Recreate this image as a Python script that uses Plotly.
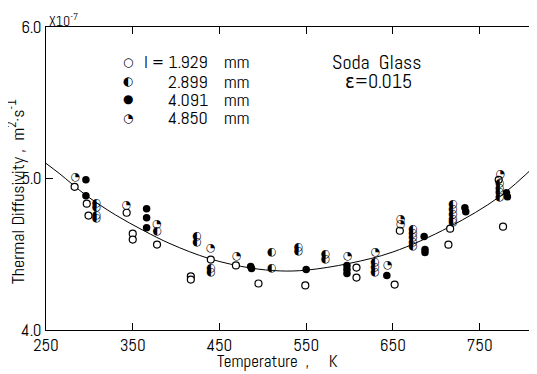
import plotly.graph_objects as go

# ---- data (temperature K, thermal diffusivity in 1e-7 m^2/s) ----
T_open = [283, 297, 299, 343, 350, 350, 378, 417, 417, 440, 469, 495, 549, 608, 608, 652, 658, 714, 716, 777, 772]
D_open = [4.945, 4.834, 4.755, 4.774, 4.636, 4.597, 4.564, 4.354, 4.333, 4.465, 4.426, 4.307, 4.294, 4.412, 4.346, 4.300, 4.655, 4.563, 4.669, 4.682, 4.991]

T_half = [308, 308, 308, 308, 378, 424, 424, 440, 440, 510, 510, 541, 541, 572, 572, 629, 629, 629,
          673, 673, 673, 673, 673, 719, 719, 719, 719, 719, 773, 773, 773, 773]
D_half = [4.834, 4.807, 4.755, 4.735, 4.650, 4.617, 4.577, 4.406, 4.380, 4.511, 4.406, 4.544, 4.518, 4.498, 4.465,
          4.445, 4.412, 4.380, 4.662, 4.636, 4.610, 4.577, 4.551, 4.827, 4.794, 4.761, 4.728, 4.708,
          4.971, 4.938, 4.906, 4.873]

T_fill = [296, 296, 366, 366, 366, 486, 487, 550, 597, 597, 597, 643, 686, 687, 687, 733, 734, 781, 782]
D_fill = [4.991, 4.886, 4.800, 4.741, 4.675, 4.419, 4.406, 4.399, 4.426, 4.399, 4.373, 4.360, 4.617, 4.531, 4.511,
          4.807, 4.781, 4.906, 4.879]

T_quar = [284, 343, 378, 440, 470, 598, 630, 644, 659, 659, 774]
D_quar = [5.005, 4.826, 4.696, 4.537, 4.485, 4.485, 4.515, 4.426, 4.728, 4.695, 5.031]

T_fit = [250, 266, 296, 330, 363, 393, 439, 485, 520, 550, 600, 650, 715, 773, 815]
D_fit = [5.10, 5.03, 4.89, 4.76, 4.655, 4.57, 4.47, 4.41, 4.39, 4.395, 4.44, 4.515, 4.68, 4.88, 5.09]

legend_labels = ["l = 1.929", "2.899", "4.091", "4.850"]
legend_glyphs = ["\u25CB", "\u25D0", "\u25CF", "\u25D4"]

x_ticks = [250, 350, 450, 550, 650, 750]
y_ticks = [4.0, 5.0, 6.0]

FONT = "Abel, DejaVu Sans Condensed, sans-serif"
GLYPH = "DejaVu Sans"

# page body has an 8px default margin; size the figure so it fills the 537x374 window
OFF = 8
W, H = 537 - OFF, 374 - OFF
ML, MR, MT, MB = 46 - OFF, 1, 27 - OFF, 374 - 330

fig = go.Figure()

fig.add_trace(go.Scatter(x=T_fit, y=D_fit, mode="lines", line=dict(color="black", width=1, shape="spline"),
                         showlegend=False, hoverinfo="skip"))

fig.add_trace(go.Scatter(x=T_open, y=D_open, mode="markers",
                         marker=dict(symbol="circle", size=7, color="white", line=dict(color="black", width=1.2)),
                         showlegend=False))
fig.add_trace(go.Scatter(x=T_fill, y=D_fill, mode="markers",
                         marker=dict(symbol="circle", size=7.5, color="black", line=dict(color="black", width=0)),
                         showlegend=False))
fig.add_trace(go.Scatter(x=T_half, y=D_half, mode="text", text=[legend_glyphs[1]] * len(T_half),
                         textposition="middle center", textfont=dict(family=GLYPH, size=11, color="black"),
                         showlegend=False))
fig.add_trace(go.Scatter(x=T_quar, y=D_quar, mode="text", text=[legend_glyphs[3]] * len(T_quar),
                         textposition="middle center", textfont=dict(family=GLYPH, size=11, color="black"),
                         showlegend=False))

pw = W - ML - MR
ph = H - MT - MB


def px(x):
    # x: pixel in the 537-wide window
    return (x - OFF - ML) / pw


def py(y):
    # y: pixel in the 374-high window
    return (H - MB - (y - OFF)) / ph


ann = []
rows = [62, 81, 99, 118]
for i, yy in enumerate(rows):
    ann.append(dict(x=px(128), y=py(yy), xref="paper", yref="paper", text=legend_glyphs[i], showarrow=False,
                    font=dict(family=GLYPH, size=12, color="black"), xanchor="center", yanchor="middle"))
    ann.append(dict(x=px(210), y=py(yy), xref="paper", yref="paper", text=legend_labels[i], showarrow=False,
                    font=dict(family=FONT, size=18, color="black"), xanchor="right", yanchor="middle"))
    ann.append(dict(x=px(222), y=py(yy), xref="paper", yref="paper", text="mm", showarrow=False,
                    font=dict(family=FONT, size=18, color="black"), xanchor="left", yanchor="middle"))

ann.append(dict(x=px(376), y=py(62), xref="paper", yref="paper", text="Soda  Glass", showarrow=False,
                font=dict(family=FONT, size=20, color="black"), xanchor="center", yanchor="middle"))
ann.append(dict(x=px(378), y=py(81), xref="paper", yref="paper", text="\u03b5=0.015", showarrow=False,
                font=dict(family=FONT, size=20, color="black"), xanchor="center", yanchor="middle"))
ann.append(dict(x=px(47), y=py(20), xref="paper", yref="paper", text="X10<sup>-7</sup>", showarrow=False,
                font=dict(family=FONT, size=14, color="black"), xanchor="left", yanchor="middle"))
# axis titles
ann.append(dict(x=px(277), y=py(361), xref="paper", yref="paper", text="Temperature  ,     K", showarrow=False,
                font=dict(family=FONT, size=17, color="black"), xanchor="center", yanchor="middle"))
ann.append(dict(x=px(16), y=py(192), xref="paper", yref="paper",
                text="Thermal Diffusivity ,  m<sup>2</sup>\u00b7s<sup>-1</sup>", showarrow=False, textangle=-90,
                font=dict(family=FONT, size=18, color="black"), xanchor="center", yanchor="middle"))

fig.update_layout(
    width=W, height=H,
    margin=dict(l=ML, r=MR, t=MT, b=MB, pad=0, autoexpand=False),
    paper_bgcolor="white", plot_bgcolor="white",
    font=dict(family=FONT, size=17, color="black"),
    annotations=ann,
    showlegend=False,
)

fig.update_xaxes(range=[250, 815], tickmode="array", tickvals=x_ticks, ticktext=[str(v) for v in x_ticks],
                 ticks="inside", ticklen=7, tickcolor="black", showline=True, linecolor="black", linewidth=1,
                 mirror="ticks", showgrid=False, zeroline=False, automargin=False,
                 tickfont=dict(size=17))
fig.update_yaxes(range=[4.0, 6.0], tickmode="array", tickvals=y_ticks, ticktext=["4.0", "5.0", "6.0"],
                 ticks="inside", ticklen=7, tickcolor="black", showline=True, linecolor="black", linewidth=1,
                 mirror="ticks", showgrid=False, zeroline=False, automargin=False,
                 tickfont=dict(size=17))

fig.write_html("out.html")
